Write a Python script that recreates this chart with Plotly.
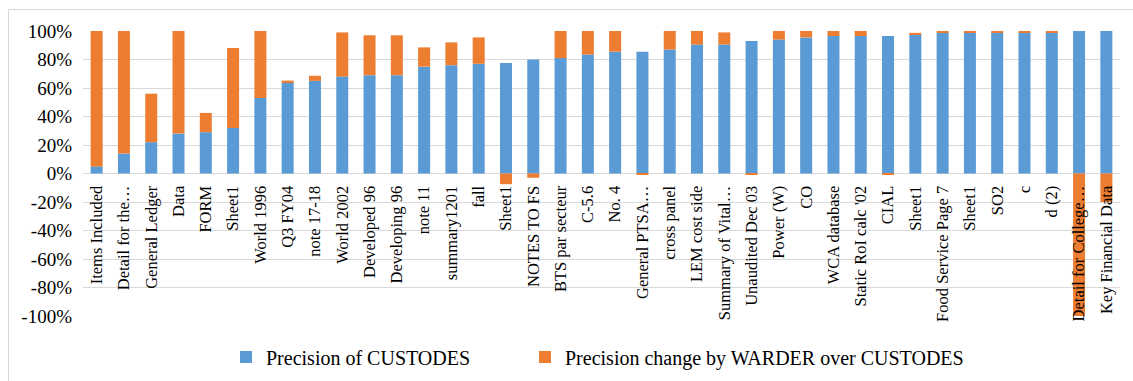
import plotly.graph_objects as go

categories = [
    "Items Included", "Detail for the…", "General Ledger", "Data", "FORM", "Sheet1",
    "World 1996", "Q3 FY04", "note 17-18", "World 2002", "Developed 96", "Developing 96",
    "note 11", "summary1201", "fall", "Sheet1", "NOTES TO FS", "BTS par secteur",
    "C-5.6", "No. 4", "General PTSA…", "cross panel", "LEM cost side", "Summary of Vital…",
    "Unaudited Dec 03", "Power (W)", "CO", "WCA database", "Static RoI calc '02", "CIAL",
    "Sheet1", "Food Service Page 7", "Sheet1", "SO2", "c", "d (2)",
    "Detail for College…", "Key Financial Data",
]

precision_custodes = [
    5, 14, 22, 28, 29, 32, 53, 64, 65, 68, 69, 69,
    75, 76, 77, 77.5, 80, 81, 83.5, 85.5, 85.5, 87, 90.5, 90.5,
    93, 94, 95.5, 96.5, 96.5, 96.5, 97.5, 98.8, 98.8, 98.8, 98.8, 98.8,
    100, 100,
]

precision_change = [
    95, 86, 34, 72, 13.5, 56, 47, 1.2, 3.6, 31, 28, 28,
    13.5, 16, 18.5, -7.5, -3, 19, 16.5, 14.5, -1, 13, 9.5, 8.5,
    -1, 6, 4.5, 3.5, 3.5, -1, 1.2, 1.2, 1.2, 1.2, 1.2, 1.2,
    -100, -20,
]

y_ticks = [-100, -80, -60, -40, -20, 0, 20, 40, 60, 80, 100]

series_names = ["Precision of CUSTODES", "Precision change by WARDER over CUSTODES"]

W, H = 1133, 381
L, R, T, B = 83, 13, 31, 65
plot_w = W - L - R
plot_h = H - T - B

def px_x(p):
    return (p - L) / plot_w

def px_y(p):
    return (H - B - p) / plot_h

xs = list(range(len(categories)))
font_family = "Liberation Serif, Times New Roman, serif"

fig = go.Figure()
fig.add_trace(go.Bar(
    x=xs, y=precision_custodes, name=series_names[0],
    marker=dict(color="#5B9BD5", line=dict(width=0)),
    width=0.44, legendwidth=254,
))
fig.add_trace(go.Bar(
    x=xs, y=precision_change, name=series_names[1],
    marker=dict(color="#ED7D31", line=dict(width=0)),
    width=0.44,
))

fig.update_layout(
    width=W, height=H,
    margin=dict(l=L, r=R, t=T, b=B, autoexpand=False),
    barmode="relative",
    paper_bgcolor="white", plot_bgcolor="white",
    font=dict(family=font_family, color="#000000"),
    legend=dict(
        orientation="h", x=px_x(226), xanchor="left",
        y=px_y(357), yanchor="middle",
        font=dict(size=20, family=font_family),
        itemwidth=30, traceorder="normal",
        bgcolor="rgba(0,0,0,0)",
    ),
    showlegend=True,
    xaxis=dict(
        tickmode="array", tickvals=xs, ticktext=categories,
        range=[-0.5, len(categories) - 0.5],
        tickangle=-90, showgrid=False, zeroline=False, showline=False,
        ticks="", anchor="free", position=0.5,
        tickfont=dict(size=16.5, family=font_family),
        ticklabelstandoff=8,
        automargin=False,
    ),
    yaxis=dict(
        range=[-100, 100], tickmode="array", tickvals=y_ticks,
        ticktext=[f"{v}%" for v in y_ticks],
        showgrid=True, gridcolor="#D9D9D9", gridwidth=1,
        zeroline=True, zerolinecolor="#D9D9D9", zerolinewidth=1,
        showline=False, ticks="",
        tickfont=dict(size=19, family=font_family),
        ticklabelstandoff=10,
        automargin=False,
    ),
    shapes=[dict(
        type="rect", xref="paper", yref="paper",
        x0=px_x(8.5), x1=px_x(1145), y0=px_y(395), y1=px_y(9.5),
        line=dict(color="#D9D9D9", width=1), fillcolor="rgba(0,0,0,0)",
        layer="below",
    )],
)

fig.write_html("out.html")
